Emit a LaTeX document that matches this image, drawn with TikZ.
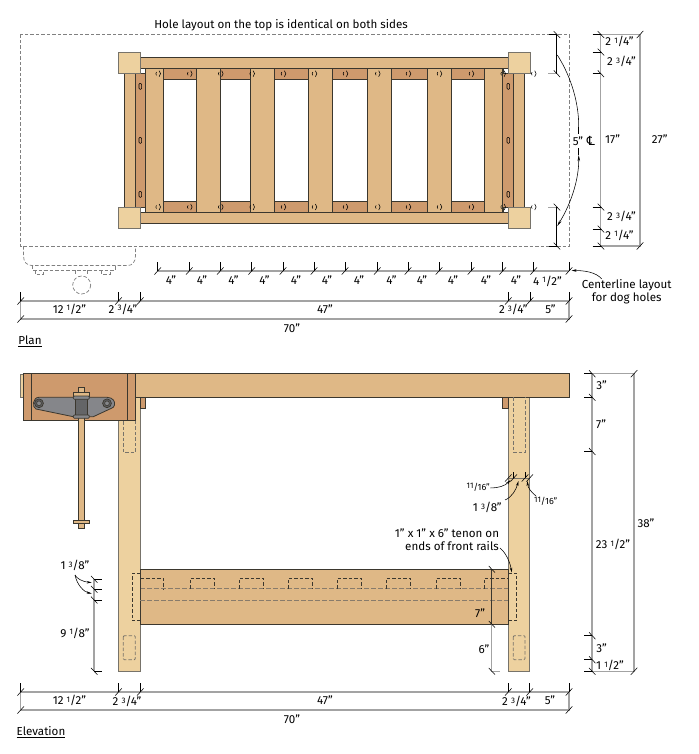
\documentclass[tikz,border=0pt]{standalone}
\usepackage{fontspec}
\setmainfont{Fira Sans}
\newfontfamily\dejavu{DejaVu Sans}
\usetikzlibrary{arrows.meta}
\definecolor{woodL}{HTML}{EDD19F}
\definecolor{woodM}{HTML}{DFB886}
\definecolor{woodD}{HTML}{CE9A6D}
\definecolor{edge}{HTML}{3B372E}
\definecolor{edgeG}{HTML}{77736A}
\definecolor{dimG}{HTML}{A3A3A3}
\definecolor{iron}{HTML}{85868A}
\newcommand\fr[2]{\raisebox{.42ex}{\footnotesize #1}/#2}
\newcommand\lab[4]{\node[lab] (#1) at (#2,#3) {#4};}
\newcommand\dH[2]{\draw[tickl] (#1,#2-9)--(#1,#2); \draw[tickl] (#1-3.3,#2+3.6)--(#1+3.3,#2-3.6);}
\newcommand\dV[2]{\draw[tickl] (#1-8,#2)--(#1,#2); \draw[tickl] (#1-3,#2-3.4)--(#1+3.4,#2+3.4);}
\newcommand\dVr[2]{\draw[tickl] (#1,#2)--(#1+8,#2); \draw[tickl] (#1-3,#2-3.4)--(#1+3.4,#2+3.4);}
\newcommand\slsh[2]{\draw[tickl] (#1-3.3,#2+3.6)--(#1+3.3,#2-3.6);}
\newcommand\hole[2]{\draw[tickl] (#1-1.2,#2-1.6) to[bend right=45] (#1-1.2,#2+1.6); \draw[tickl] (#1+1.4,#2-3) to[bend left=55] (#1+1.4,#2+3);}
\newcommand\wood[5]{\draw[#1] (#2,#3) rectangle (#4,#5);}
\tikzset{
 lab/.style={font=\fontsize{11.6}{13}\selectfont,inner sep=0pt,text=black},
 tickl/.style={draw=black,line width=.55pt},
 dimline/.style={draw=dimG,line width=1.1pt},
 lpart/.style={fill=woodL,draw=edgeG,line width=.8pt},
 mpart/.style={fill=woodM,draw=edge,line width=.8pt},
 dpart/.style={fill=woodD,draw=edge,line width=.8pt},
 hid/.style={draw=edgeG,line width=.75pt,dash pattern=on 3.5pt off 2pt},
 hidk/.style={draw=edge,line width=.65pt,dash pattern=on 3.5pt off 2pt},
 hidline/.style={draw=edgeG!80!woodD,line width=.9pt,dash pattern=on 4.5pt off 2.5pt},
 phantomd/.style={draw=gray,line width=.7pt,dash pattern=on 3.5pt off 2pt},
 leader/.style={draw=black,line width=.55pt},
 arr/.style={leader,-{Stealth[length=5pt,width=2.5pt]}},
 arrs/.style={leader,{Stealth[length=6pt,width=2.5pt]}-{Stealth[length=6pt,width=2.5pt]}},
 ironp/.style={fill=iron,draw=edge,line width=.8pt},
}
\begin{document}
\begin{tikzpicture}[x=1pt,y=-1pt]
\useasboundingbox (0,0) rectangle (698,754);
\fill[white] (0,0) rectangle (698,754);
%%%%% PLAN
\lab{tTop}{281}{25}{Hole layout on the top is identical on both sides}
\draw[phantomd] (20.5,34.5) rectangle (569,246);
% vise phantom
\draw[phantomd] (23.5,246)--(23.5,256) .. controls (23.5,262) and (27,265.5) .. (32,265.5)--(128,265.5) .. controls (132,265.5) and (135.5,262) .. (135.5,256)--(135.5,246);
\draw[phantomd] (32,265.5)--(32,270)--(115,270)--(115,265.5);
\draw[phantomd] (35,270)--(35,274)--(43.5,274)--(43.5,270);
\draw[phantomd] (101.5,270)--(101.5,274)--(110,274)--(110,270);
\draw[phantomd] (75.5,270)--(75.5,274) (87.3,270)--(87.3,274);
\draw[phantomd] (81.7,285) circle (9);
% rails
\wood{mpart}{140}{57.3}{508.3}{68.3}
\wood{mpart}{140}{212.3}{508.3}{223.3}
\wood{dpart}{145}{68.3}{503}{79.3}
\wood{dpart}{145}{201.3}{503}{212.3}
% slats
\foreach \a/\b in {145.7/163.7,196.3/220,250.7/274.3,308.7/332,367.7/391.3,427.7/451.3,484.7/502.7}{
  \wood{mpart}{\a}{68.3}{\b}{212.3}
}
% end rails
\wood{mpart}{124}{73.7}{135}{207}
\wood{dpart}{135}{73.7}{145.7}{207}
\wood{dpart}{502.7}{73.7}{513.7}{207}
\wood{mpart}{513.7}{73.7}{524.7}{207}
% legs
\foreach \a/\b in {118.4/140.3,508.3/530}{
  \wood{lpart}{\a}{52.3}{\b}{73.7}
  \wood{lpart}{\a}{207}{\b}{228.7}
}
% dog holes
\foreach \a in {157.7,189.3,220.3,251.7,283,314,345,377.3,408,439,471,502.7,533.3}{
  \hole{\a}{73.7}
  \hole{\a}{207}
}
% slots
\foreach \a in {140.3,508.3}\foreach \b in {86.3,140.3,194.3}{
  \draw[black,line width=.55pt,rounded corners=1pt] (\a-1.3,\b-3) rectangle (\a+1.3,\b+3);
}
% dims: dog hole row
\draw[dimline] (157.7,271)--(569,271);
\foreach \a in {157.7,189.3,220.3,251.7,283,314,345,377.3,408,439,471,502.7,533.7,569}{\dH{\a}{271}}
\foreach \a [count=\i] in {171,202,233.5,264.5,296,327,359,391.5,422,453,486,516}{
  \lab{fourP\i}{\a}{280}{4"}
}
\lab{fourHalf}{547.5}{281}{4 \fr{1}{2}"}
\lab{tCL}{626.7}{285}{Centerline layout}
\lab{tCL2}{626.7}{298}{for dog holes}
\coordinate (cEnd) at (571.5,270.5);
\draw[arr] (601.7,279) .. controls (596,272) and (584,270.5) .. (cEnd);
% plan bottom dims
\draw[dimline] (20.7,301)--(20.7,319)--(569,319)--(569,301)--cycle;
\foreach \a in {20.7,118.5,140.3,508.3,530,569}{\dH{\a}{301}}
\slsh{20.7}{319}\slsh{569}{319}
\lab{pA}{69.5}{309}{12 \fr{1}{2}"}
\lab{pB}{123}{309}{2 \fr{3}{4}"}
\lab{pC}{325}{309}{47"}
\lab{pD}{513.3}{309.5}{2 \fr{3}{4}"}
\lab{pE}{550.5}{309}{5"}
\lab{pF}{292}{328}{70"}
\lab{tPlan}{30}{341}{\underline{Plan}}
% right dims
\draw[dimline] (600.7,34.5)--(640,34.5)--(640,246)--(600.7,246)--cycle;
\foreach \b in {34.5,52,73.7,207,229,246}{\dV{600.7}{\b}}
\slsh{640}{34.5}\slsh{640}{246}
\lab{rA}{619.5}{41.5}{2 \fr{1}{4}"}
\lab{rB}{621.5}{61.5}{2 \fr{3}{4}"}
\lab{rC}{612.5}{139}{17"}
\lab{rD}{659.7}{139}{27"}
\lab{rE}{621.5}{216.5}{2 \fr{3}{4}"}
\lab{rF}{619.5}{235}{2 \fr{1}{4}"}
% 5" centre dims
\draw[tickl] (556.7,34.5)--(556.7,73.7) (556.7,207)--(556.7,246);
\foreach \b in {34.5,73.7,207,246}{\dV{556.7}{\b}}
\draw[dimline,line width=.7pt] (548,73.7)--(556,73.7) (548,207)--(556,207);
\coordinate (arcA) at (557.3,55);
\coordinate (arcB) at (557.3,226);
\draw[arrs] (arcA) .. controls (572,78) and (579,105) .. (578.7,127) (578.7,155) .. controls (579,178) and (572,202) .. (arcB);
\draw[leader] (578.7,127)--(578.7,134) (578.7,148)--(578.7,155);
\lab{rG}{578}{141}{5"}
\node[lab,font=\fontsize{12.5}{13}\selectfont\dejavu] (rCL) at (591,141) {℄};
%%%%% ELEVATION
% legs
\wood{lpart}{118.5}{397}{140.3}{671.3}
\wood{lpart}{508.3}{397}{529.7}{671.3}
\wood{dpart}{140.3}{397}{145.7}{408}
\wood{dpart}{502.7}{397}{508.3}{408}
% top
\wood{lpart}{20.3}{374}{23.3}{397}
\wood{mpart}{135.7}{373.7}{569}{397.3}
% chop
\wood{dpart}{23.3}{373.7}{135.7}{420.7}
\draw[draw=edge,line width=.8pt] (31.3,373.7)--(31.3,420.7) (127.3,373.7)--(127.3,420.7);
% mortises
\draw[hid] (123.3,421)--(123.3,452.3)--(135.3,452.3)--(135.3,421);
\draw[hid] (513.3,397)--(513.3,452.3)--(525,452.3)--(525,397);
\draw[hid,rounded corners=1pt] (123.3,635.7) rectangle (135.3,659.7);
\draw[hid,rounded corners=1pt] (513.3,635.7) rectangle (525,659.7);
% rail
\wood{mpart}{140.3}{569.3}{508.3}{624.3}
\draw[hidline] (140.3,588.7)--(508.3,588.7);
\draw[hidline] (140.3,600)--(508.3,600);
\foreach \a/\b in {140.3/163.7,190.3/214.7,239.3/263.7,288.3/312.7,337.3/361.7,386.3/410.7,436/460,484.3/508.3}{
  \draw[hidk] (\a,588.7)--(\a,578.3)--(\b,578.3)--(\b,588.7);
}
\draw[hidk] (140.3,573.3)--(132.3,573.3)--(132.3,620.7)--(140.3,620.7);
\draw[hidk] (508.3,573.3)--(516.7,573.3)--(516.7,620.7)--(508.3,620.7);
% screw
\wood{mpart}{78}{387.3}{84.7}{528.3}
\draw[mpart,line width=.6pt] (73.3,520) rectangle (89.3,523.7);
\draw[mpart,line width=.6pt] (73.3,392.7) rectangle (89.3,396);
% iron
\draw[ironp] (39,397.3)--(107,397.3) .. controls (113,397.3) and (115.5,402) .. (114.5,405) .. controls (114,407) and (113,407.5) .. (112,408)--(93.3,416.7)--(73.3,416.7)--(36,409) .. controls (32,407.5) and (32.5,397.3) .. (39,397.3)--cycle;
\foreach \a in {39,107}{
  \draw[fill=iron!70!black,draw=edge,line width=.7pt] (\a,403.3) circle (4.4);
  \draw[fill=iron,draw=edge,line width=.6pt] (\a,403.3) circle (2.4);
}
\draw[fill=iron!75!black,draw=edge,line width=.7pt] (75.5,398) rectangle (87.5,416);
\draw[fill=iron,draw=edge,line width=.7pt,rounded corners=1pt] (73.3,396) rectangle (89.3,399.3);
\draw[fill=iron,draw=edge,line width=.7pt,rounded corners=1pt] (73.3,415) rectangle (89.3,418.3);
% right vertical dims
\draw[dimline] (592,373.7)--(634,373.7)--(634,671.3)--(592,671.3)--cycle;
\foreach \b in {373.7,397.3,451.5,635.7,659.7,671.3}{\dV{592}{\b}}
\slsh{634}{373.7}\slsh{634}{671.3}
\lab{eA}{601.7}{385}{3"}
\lab{eB}{601}{424.5}{7"}
\lab{eC}{613}{544.5}{23 \fr{1}{2}"}
\lab{eD}{646}{523}{38"}
\lab{eE}{601.7}{648.5}{3"}
\lab{eF}{610}{665.5}{1 \fr{1}{2}"}
% left dims
\draw[dimline] (94,579.3)--(94,671.3);
\foreach \b in {579.3,589.3,600,671.3}{\dVr{94}{\b}}
\lab{eG}{75}{565.5}{1 \fr{3}{8}"}
\lab{eH}{75}{633}{9 \fr{1}{8}"}
\coordinate (lA) at (91.7,582.5);
\coordinate (lB) at (91.7,593.5);
\draw[arr] (75,575) .. controls (76,578) and (83,582) .. (lA);
\draw[arr] (75,575) .. controls (77,585) and (84,592) .. (lB);
% bottom dims
\draw[dimline] (20.7,692)--(20.7,710)--(569,710)--(569,692)--cycle;
\foreach \a in {20.7,118.5,140.3,508.3,529.7,569}{\dH{\a}{692}}
\slsh{20.7}{710}\slsh{569}{710}
\lab{bA}{69.5}{700.5}{12 \fr{1}{2}"}
\lab{bB}{127}{701.5}{2 \fr{3}{4}"}
\lab{bC}{325}{700}{47"}
\lab{bD}{516.5}{701.5}{2 \fr{3}{4}"}
\lab{bE}{550}{700}{5"}
\lab{bF}{292}{719}{70"}
\lab{tElev}{41}{732}{\underline{Elevation}}
% rail height dims
\draw[edge,line width=.55pt] (491.7,569.3)--(491.7,624.3);
\draw[dimline,line width=.8pt] (491.7,624.3)--(491.7,671.3)--(500,671.3);
\draw[tickl] (488.7,566)--(495,572.6) (488.7,621)--(495,627.6) (488.7,668)--(495,674.6);
\lab{eI}{480}{612.7}{7"}
\lab{eJ}{484}{648.7}{6"}
% tenon dims
\draw[edgeG,line width=.6pt] (508.3,478)--(529.7,478);
\foreach \a in {513.7,525}{\draw[tickl] (\a,472)--(\a,478);}
\foreach \a in {508.3,513.7,525,529.7}{\slsh{\a}{478}}
\lab{eK}{478.3}{487.7}{\fontsize{9}{10}\selectfont \fr{11}{16}"}
\lab{eL}{487.3}{507.5}{1 \fr{3}{8}"}
\lab{eM}{545.7}{501.3}{\fontsize{9}{10}\selectfont \fr{11}{16}"}
\coordinate (tA) at (510.5,480);
\coordinate (tB) at (518.5,481);
\coordinate (tC) at (527.3,481);
\draw[arr] (490.5,488) .. controls (498,488) and (505,486) .. (tA);
\draw[arr] (505,500) .. controls (512,497) and (516,490) .. (tB);
\draw[arr] (536,496) .. controls (531,492) and (528,488) .. (tC);
\lab{eN}{447}{533}{1" x 1" x 6" tenon on}
\lab{eO}{452}{546}{ends of front rails}
\coordinate (tenonEnd) at (511.8,572.5);
\draw[arr] (500,548) .. controls (506,553) and (510,562) .. (tenonEnd);
\end{tikzpicture}
\end{document}
